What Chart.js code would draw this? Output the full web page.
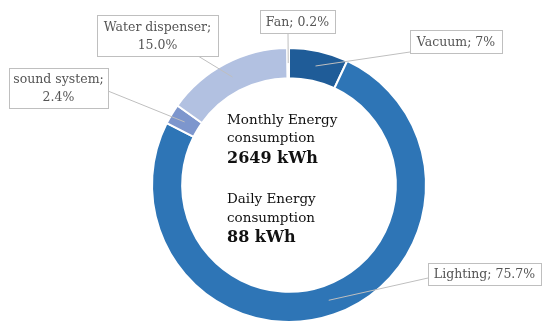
<!DOCTYPE html>
<html lang="en">
<head>
  <meta charset="UTF-8">
  <title>Energy consumption</title>
  <style>
    html, body { margin: 0; padding: 0; background: #fff; }
    #wrap { width: 550px; height: 336px; }
  </style>
</head>
<body>
  <div id="wrap"><canvas id="energyChart" width="550" height="336"></canvas></div>

  <script src="https://cdn.jsdelivr.net/npm/chart.js"></script>
  <script>
    // Data (clockwise from the top)
    const categories = ['Vacuum', 'Lighting', 'sound system', 'Water dispenser', 'Fan'];
    const shares = [7, 75.7, 2.4, 15.0, 0.2];
    const shareLabels = ['7%', '75.7%', '2.4%', '15.0%', '0.2%'];
    const colors = ['#1f5c98', '#2e75b6', '#7d96cd', '#b2c1e1', '#c7d2ea'];

    const centerLines = [
      { text: 'Monthly Energy', bold: false },
      { text: 'consumption', bold: false },
      { text: '2649 kWh', bold: true },
      { text: 'Daily Energy', bold: false },
      { text: 'consumption', bold: false },
      { text: '88 kWh', bold: true }
    ];

    // Callout boxes: rect + where the leader line leaves the box
    const callouts = [
      { x: 410, y: 30, w: 92, h: 23, lines: 1, ax: 410, ay: 52 },
      { x: 428, y: 263, w: 113, h: 22, lines: 1, ax: 428, ay: 278 },
      { x: 9, y: 68, w: 99, h: 40, lines: 2, ax: 108, ay: 91 },
      { x: 97, y: 15, w: 121, h: 41, lines: 2, ax: 198, ay: 56 },
      { x: 260, y: 10, w: 75, h: 23, lines: 1, ax: 288, ay: 33 }
    ];
    const centerY = [120, 138, 159, 199, 218, 238];

    const labelFont = '12.5px "DejaVu Serif", serif';

    const calloutPlugin = {
      id: 'callouts',
      afterDatasetsDraw(chart) {
        const ctx = chart.ctx;
        const arcs = chart.getDatasetMeta(0).data;
        ctx.save();
        // leader lines
        ctx.strokeStyle = '#bfbfbf';
        ctx.lineWidth = 1;
        arcs.forEach((arc, i) => {
          const c = callouts[i];
          const p = arc.tooltipPosition();
          ctx.beginPath();
          ctx.moveTo(c.ax, c.ay);
          ctx.lineTo(p.x, p.y);
          ctx.stroke();
        });
        // boxes and text
        ctx.font = labelFont;
        ctx.textAlign = 'center';
        ctx.textBaseline = 'middle';
        categories.forEach((cat, i) => {
          const c = callouts[i];
          ctx.fillStyle = '#ffffff';
          ctx.fillRect(c.x, c.y, c.w, c.h);
          ctx.strokeStyle = '#bfbfbf';
          ctx.strokeRect(c.x + 0.5, c.y + 0.5, c.w, c.h);
          ctx.fillStyle = '#555555';
          const cx = c.x + c.w / 2;
          const cy = c.y + c.h / 2 + 1;
          if (c.lines === 2) {
            ctx.fillText(cat + ';', cx, cy - 9);
            ctx.fillText(shareLabels[i], cx, cy + 9);
          } else {
            ctx.fillText(cat + '; ' + shareLabels[i], cx, cy);
          }
        });
        // centre text
        ctx.textAlign = 'left';
        ctx.textBaseline = 'middle';
        ctx.fillStyle = '#111111';
        centerLines.forEach((ln, i) => {
          ctx.font = ln.bold ? 'bold 16px "DejaVu Serif", serif' : '13.5px "DejaVu Serif", serif';
          ctx.fillText(ln.text, 227, centerY[i]);
        });
        ctx.restore();
      }
    };

    new Chart(document.getElementById('energyChart'), {
      type: 'doughnut',
      data: {
        labels: categories,
        datasets: [{
          data: shares,
          backgroundColor: colors,
          borderColor: '#ffffff',
          borderWidth: 2
        }]
      },
      options: {
        responsive: false,
        animation: false,
        cutout: '78%',
        layout: { padding: { top: 47, bottom: 13, left: 28, right: 0 } },
        plugins: {
          legend: { display: false },
          tooltip: { enabled: false }
        }
      },
      plugins: [calloutPlugin]
    });
  </script>
</body>
</html>
